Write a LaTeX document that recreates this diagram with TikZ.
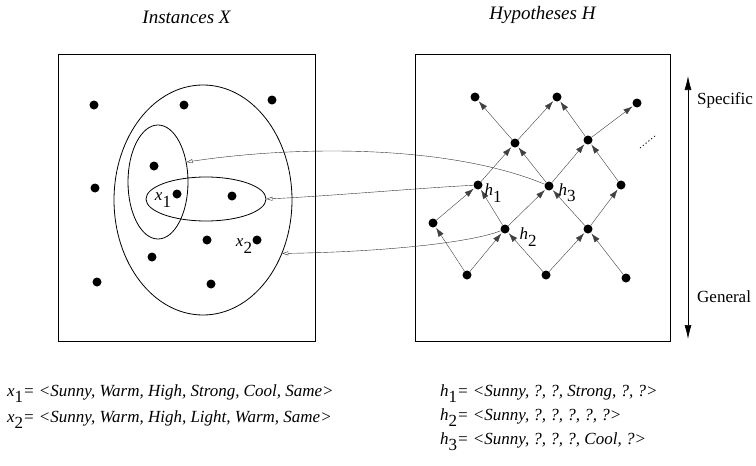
\documentclass[tikz,border=0pt]{standalone}
\usepackage{fontspec}
\setmainfont{Liberation Serif}
\usepackage{tikz}
\usetikzlibrary{positioning,arrows.meta,shapes.geometric}
\newcommand{\lowsub}[2]{\textit{#1}\raisebox{-0.8ex}{\upshape #2}}
\tikzset{
  frame/.style={rectangle,draw=black,thick,inner sep=0pt},
  dot/.style={circle,fill=black,inner sep=0pt,minimum size=9pt},
  region/.style={ellipse,draw=black,thick,inner sep=0pt},
  lat/.style={-{Latex[length=9pt,width=6pt]},thin,draw=black!75,shorten >=1pt},
  map/.style={-{Triangle[open,length=6pt,width=4pt]},thin,draw=black!80},
  lbl/.style={font=\fontsize{17}{19}\selectfont,inner sep=0pt},
  title/.style={font=\fontsize{19}{22}\selectfont\itshape},
  tuple/.style={font=\fontsize{17}{19}\selectfont\itshape,anchor=base west,inner sep=0pt}
}
\begin{document}
\begin{tikzpicture}[x=1pt,y=-1pt]
  \useasboundingbox (0,0) rectangle (756,466);
  % the two spaces
  \node[frame,minimum width=257pt,minimum height=287pt] (xbox) at (186.5,197.5) {};
  \node[frame,minimum width=255pt,minimum height=287pt] (hbox) at (542.5,197.5) {};
  \node[title,above=26pt of xbox] (xtitle) {Instances X};
  \node[title,above=26pt of hbox] (htitle) {Hypotheses H};
  % instances
  \foreach \n/\p in {p1/{94,105},p2/{184,105},p3/{272,100},p4/{154,166},p5/{95,188},
      x1/{177,194},p7/{232,196},p8/{207,240},x2/{257,240},p10/{152,257},p11/{97,282},p12/{211,284}}
    \node[dot] (\n) at (\p) {};
  \node[region,minimum width=178pt,minimum height=230pt] (outer) at (203,200) {};
  \node[region,minimum width=60pt,minimum height=114pt] (vert) at (158,182) {};
  \node[region,minimum width=120pt,minimum height=44pt] (horiz) at (206,199) {};
  \node[lbl] (x1lab) at (163,200) {\lowsub{x}{1}};
  \node[lbl] (x2lab) at (244,246) {\lowsub{x}{2}};
  % hypotheses, general at the bottom
  \foreach \n/\p in {a1/{475,97},a2/{557,97},a3/{637,103},b1/{515,143},b2/{588,140},
      h1/{478,185},h3/{549,186},c3/{621,185},d1/{433,223},h2/{505,229},d3/{588,229},
      e1/{467,275},e2/{546,275},e3/{626,278}}
    \node[dot] (\n) at (\p) {};
  \foreach \u/\v in {e1/d1,e1/h2,e2/h2,e2/d3,e3/d3,d1/h1,h2/h1,h2/h3,d3/h3,d3/c3,
      h1/b1,h3/b1,h3/b2,c3/b2,b1/a1,b1/a2,b2/a2,b2/a3}
    \draw[lat] (\u) -- (\v);
  \node[lbl] (h1lab) at (493,193) {\lowsub{h}{1}};
  \node[lbl] (h3lab) at (567,193) {\lowsub{h}{3}};
  \node[lbl] (h2lab) at (528,237) {\lowsub{h}{2}};
  \coordinate (moreA) at (640,148);
  \coordinate (moreB) at (655,136);
  \draw[dash pattern=on 1.2pt off 2.4pt,thick] (moreA) -- (moreB);
  % hypothesis -> set of instances
  \draw[map] (h3) .. controls (450,145) and (300,145) .. (vert.35);
  \draw[map] (h1) .. controls (420,188) and (330,196) .. (horiz.east);
  \draw[map] (h2) .. controls (470,243) and (380,252) .. (outer.-34);
  % ordering
  \coordinate (spec) at (688,76);
  \coordinate (gen) at (688,339);
  \draw[{Latex[length=14pt,width=7pt]}-{Latex[length=14pt,width=7pt]},semithick] (gen) -- (spec);
  \node[lbl,anchor=west] (speclab) at (697,100) {Specific};
  \node[lbl,anchor=west] (genlab) at (697,297) {General};
  % the examples
  \node[tuple] (xone) at (7,396) {\lowsub{x}{1}= <Sunny, Warm, High, Strong, Cool, Same>};
  \node[tuple] (xtwo) at (7,422) {\lowsub{x}{2}= <Sunny, Warm, High, Light, Warm, Same>};
  \node[tuple] (hone) at (440,396) {\lowsub{h}{1}= <Sunny, ?, ?, Strong, ?, ?>};
  \node[tuple] (htwo) at (440,420) {\lowsub{h}{2}= <Sunny, ?, ?, ?, ?, ?>};
  \node[tuple] (hthree) at (440,444) {\lowsub{h}{3}= <Sunny, ?, ?, ?, Cool, ?>};
\end{tikzpicture}
\end{document}
